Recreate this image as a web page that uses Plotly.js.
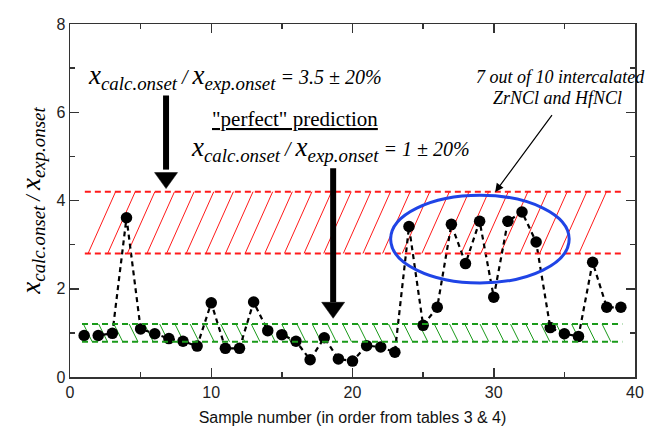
<!DOCTYPE html>
<html>
<head>
<meta charset="utf-8">
<script src="https://cdn.plot.ly/plotly-3.0.1.min.js"></script>
<style>html,body{margin:0;padding:0;background:#fff;}#chart{width:648px;height:435px;}</style>
</head>
<body>
<div id="chart"></div>
<script>
// ---- data ----
const sampleNumber = [1,2,3,4,5,6,7,8,9,10,11,12,13,14,15,16,17,18,19,20,21,22,23,24,25,26,27,28,29,30,31,32,33,34,35,36,37,38,39];
const ratio = [0.94,0.94,0.99,3.61,1.09,0.98,0.87,0.81,0.70,1.68,0.65,0.65,1.70,1.05,0.96,0.81,0.39,0.89,0.41,0.36,
               0.71,0.68,0.56,3.41,1.17,1.58,3.46,2.57,3.53,1.81,3.53,3.74,3.06,1.12,0.98,0.92,2.60,1.58,1.58];
const bandCenters = [3.5, 1];
const bandTolerance = 0.20;
const xTickVals = [0,10,20,30,40];
const yTickVals = [0,2,4,6,8];

// ---- style constants ----
const serif = 'Liberation Serif';
const sans = 'Liberation Sans';
const red = '#ff1a1a', green = '#1a9a1a', blue = '#1f44e6';
const bands = [
  {c: bandCenters[0], color: red, x0: 1.05, x1: 39.1, dir: 1, first: 1.28, step: 1.39, run: 1.95},
  {c: bandCenters[1], color: green, x0: 0.85, x1: 39.1, dir: -1, first: 0.95, step: 1.08, run: 0.62}
];

const traces = [];
const shapes = [];
bands.forEach(b => {
  const lo = b.c * (1 - bandTolerance), hi = b.c * (1 + bandTolerance);
  const hx = [], hy = [];
  for (let s = b.first; s + b.run <= b.x1 + 0.15; s += b.step) {
    if (b.dir > 0) { hx.push(s, s + b.run, null); hy.push(lo, hi, null); }
    else { hx.push(s, s + b.run, null); hy.push(hi, lo, null); }
  }
  traces.push({x: hx, y: hy, type: 'scatter', mode: 'lines', line: {color: b.color, width: 1}, hoverinfo: 'skip', showlegend: false});
  [lo, hi].forEach(v => shapes.push({type: 'line', xref: 'x', yref: 'y', x0: b.x0, x1: b.x1, y0: v, y1: v,
    line: {color: b.color, width: 2, dash: '6px,4px'}, layer: 'above'}));
});

traces.push({
  x: sampleNumber, y: ratio, type: 'scatter', mode: 'lines+markers',
  line: {color: '#000', width: 2.2, dash: '5px,4px'},
  marker: {color: '#000', size: 11.5},
  showlegend: false
});
// off-range point that carries the top/right tick axes
traces.push({x: [-100], y: [-100], type: 'scatter', mode: 'markers', xaxis: 'x2', yaxis: 'y2',
  marker: {opacity: 0}, showlegend: false, hoverinfo: 'skip'});

// ellipse
shapes.push({type: 'circle', xref: 'x', yref: 'y', x0: 22.7, x1: 35.34, y0: 2.13, y1: 4.12,
  line: {color: blue, width: 3}});

// big arrows: shaft + head
const bigArrows = [
  {x: 6.8, tail: 6.38, base: 4.70, tip: 4.27},
  {x: 18.63, tail: 4.73, base: 1.70, tip: 1.33}
];
bigArrows.forEach(a => {
  shapes.push({type: 'line', xref: 'x', yref: 'y', x0: a.x, x1: a.x, y0: a.tail, y1: a.base, line: {color: '#000', width: 6}});
  shapes.push({type: 'path', xref: 'x', yref: 'y', xsizemode: 'pixel', ysizemode: 'pixel', xanchor: a.x, yanchor: a.tip,
    path: 'M-11.5,16 L11.5,16 L0,0 Z', fillcolor: '#000', line: {color: '#000', width: 0.5}});
});

const frac = (val) => '<i>x<sub>calc.onset</sub><span style="font-size:20px"> / </span>x<sub>exp.onset</sub>' +
  (val ? '<span style="font-size:20px"> = ' + val + '</span>' : '') + '</i>';

const annotations = [
  {xref: 'x', yref: 'y', x: 1.15, y: 6.79, xanchor: 'left', yanchor: 'middle', showarrow: false,
   text: frac('3.5 ± 20%'), font: {family: serif, size: 27, color: '#000'}},
  {xref: 'x', yref: 'y', x: 15.95, y: 5.84, xanchor: 'center', yanchor: 'middle', showarrow: false,
   text: '<u>"perfect" prediction</u>', font: {family: serif, size: 21, color: '#000'}},
  {xref: 'x', yref: 'y', x: 8.45, y: 5.16, xanchor: 'left', yanchor: 'middle', showarrow: false,
   text: frac('1 ± 20%'), font: {family: serif, size: 27, color: '#000'}},
  {xref: 'x', yref: 'y', x: 34.7, y: 6.81, xanchor: 'center', yanchor: 'middle', showarrow: false,
   text: '<i>7 out of 10 intercalated</i>', font: {family: serif, size: 18, color: '#000'}},
  {xref: 'x', yref: 'y', x: 34.5, y: 6.33, xanchor: 'center', yanchor: 'middle', showarrow: false,
   text: '<i>ZrNCl and HfNCl</i>', font: {family: serif, size: 18, color: '#000'}},
  {xref: 'x', yref: 'y', x: 30.1, y: 4.19, axref: 'x', ayref: 'y', ax: 34.2, ay: 5.97, text: '',
   showarrow: true, arrowhead: 2, arrowsize: 1.4, arrowwidth: 1.2, arrowcolor: '#000', standoff: 0}
];

const axisCommon = {
  showline: true, linewidth: 1.5, linecolor: '#333', mirror: 'ticks',
  ticks: 'inside', ticklen: 9, tickwidth: 1.5, tickcolor: '#333',
  showgrid: false, zeroline: false,
  tickfont: {family: sans, size: 16, color: '#222'}
};
const xMinor = {dtick: 5, tick0: 0, ticks: 'inside', ticklen: 5, tickwidth: 1.5, tickcolor: '#333', showgrid: false};
const yMinor = {dtick: 1, tick0: 0, ticks: 'inside', ticklen: 5, tickwidth: 1.5, tickcolor: '#333', showgrid: false};

const layout = {
  width: 648, height: 435,
  margin: {l: 70, r: 13, t: 24, b: 58},
  paper_bgcolor: '#fff', plot_bgcolor: '#fff',
  showlegend: false,
  font: {family: sans},
  xaxis: Object.assign({}, axisCommon, {
    range: [0, 40], tickvals: xTickVals, ticktext: xTickVals.map(String), minor: xMinor,
    title: {text: 'Sample number (in order from tables 3 & 4)', font: {family: sans, size: 16, color: '#111'}, standoff: 12}
  }),
  yaxis: Object.assign({}, axisCommon, {
    range: [0, 8], tickvals: yTickVals, ticktext: yTickVals.map(String), minor: yMinor,
    title: {text: frac(''), font: {family: serif, size: 27, color: '#000'}, standoff: 8}
  }),
  xaxis2: Object.assign({}, axisCommon, {
    overlaying: 'x', side: 'top', anchor: 'y', range: [0, 40], tickvals: xTickVals, showticklabels: false, minor: xMinor, mirror: false
  }),
  yaxis2: Object.assign({}, axisCommon, {
    overlaying: 'y', side: 'right', anchor: 'x', range: [0, 8], tickvals: yTickVals, showticklabels: false, minor: yMinor, mirror: false
  }),
  shapes: shapes,
  annotations: annotations
};

Plotly.newPlot('chart', traces, layout, {staticPlot: true, displayModeBar: false});
</script>
</body>
</html>
